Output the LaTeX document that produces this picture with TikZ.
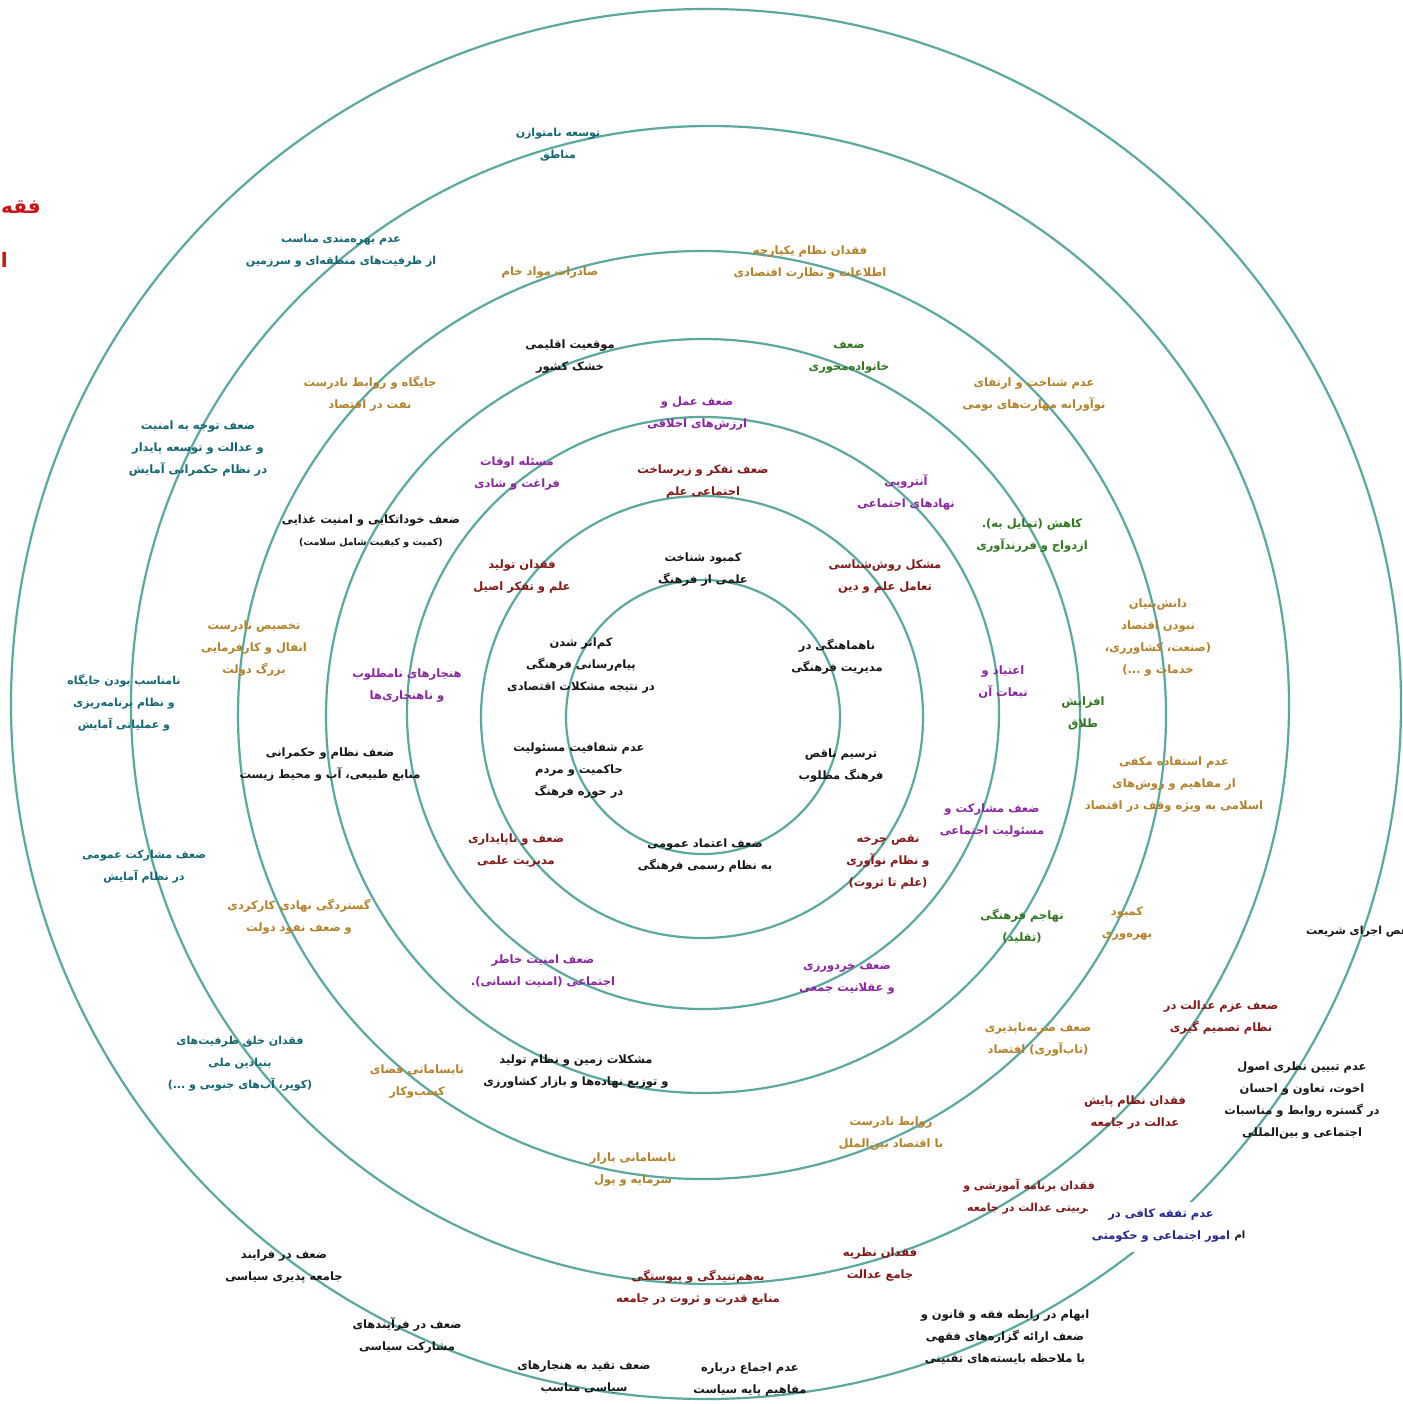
\documentclass[tikz,border=0pt]{standalone}
\usepackage{fontspec}
\newfontfamily\fafont[Script=Arabic]{DejaVu Sans}
\TeXXeTstate=1
\newcommand\R[1]{\beginR #1\endR}
\newcommand\zw{^^^^200c}
\definecolor{ring}{RGB}{90,168,158}
\definecolor{cteal}{RGB}{18,102,112}
\definecolor{cgold}{RGB}{178,130,42}
\definecolor{cgreen}{RGB}{48,118,30}
\definecolor{cpurple}{RGB}{138,38,158}
\definecolor{cdred}{RGB}{128,24,24}
\definecolor{cnavy}{RGB}{36,40,140}
\definecolor{cred}{RGB}{200,20,20}
\definecolor{cblack}{RGB}{22,22,22}
\tikzset{
  ringline/.style={draw=ring, line width=2.2pt},
  lbl/.style={align=center, inner sep=1pt, font=\fafont\bfseries\fontsize{11.5}{22}\selectfont},
  small/.style={font=\fafont\bfseries\fontsize{11}{22}\selectfont},
  tl/.style={lbl, small, text=cteal},
  gd/.style={lbl, text=cgold},
  bk/.style={lbl, text=cblack},
  gr/.style={lbl, text=cgreen},
  pu/.style={lbl, text=cpurple},
  dr/.style={lbl, text=cdred},
  nv/.style={lbl, text=cnavy},
  rd/.style={lbl, text=cred, font=\fafont\bfseries\fontsize{20}{30}\selectfont}
}
\begin{document}
\begin{tikzpicture}[x=1pt,y=-1pt]
\useasboundingbox (0,0) rectangle (1402,1404);
\clip (0,0) rectangle (1402,1404);
\fill[white] (0,0) rectangle (1402,1404);
% rings
\draw[ringline] (703,717) circle[radius=137];
\draw[ringline] (702,717) circle[radius=221];
\draw[ringline] (703,713) circle[radius=296];
\draw[ringline] (703,716) circle[radius=377];
\draw[ringline] (702,715) circle[radius=464];
\draw[ringline] (710,705) circle[radius=579];
\draw[ringline] (706,704) circle[radius=695];
% teal
\node[tl] (t1) at (558,144.5) {\R{توسعه نامتوازن}\\\R{مناطق}};
\node[tl] (t2) at (341,251) {\R{عدم بهره\zw{}مندی مناسب}\\\R{از ظرفیت\zw{}های منطقه\zw{}ای و سرزمین}};
\node[lbl, text=cteal] (t3) at (198,449) {\R{ضعف توجه به امنیت}\\\R{و عدالت و توسعه پایدار}\\\R{در نظام حکمرانی آمایش}};
\node[tl] (t4) at (124,703) {\R{نامناسب بودن جایگاه}\\\R{و نظام برنامه\zw{}ریزی}\\\R{و عملیاتی آمایش}};
\node[tl] (t5) at (144,866.5) {\R{ضعف مشارکت عمومی}\\\R{در نظام آمایش}};
\node[tl] (t6) at (240,1063.5) {\R{فقدان خلق ظرفیت\zw{}های}\\\R{بنیادین ملی}\\\R{(کویر، آب\zw{}های جنوبی و ...)}};
% gold
\node[gd] (t7) at (550,273) {\R{صادرات مواد خام}};
\node[gd] (t8) at (810,263) {\R{فقدان نظام یکپارچه}\\\R{اطلاعات و نظارت اقتصادی}};
\node[gd] (t9) at (370,394) {\R{جایگاه و روابط نادرست}\\\R{نفت در اقتصاد}};
\node[gd] (t10) at (1034,395) {\R{عدم شناخت و ارتقای}\\\R{نوآورانه مهارت\zw{}های بومی}};
\node[gd] (t11) at (254,648.5) {\R{تخصیص نادرست}\\\R{انفال و کارفرمایی}\\\R{بزرگ دولت}};
\node[gd] (t12) at (1158,638) {\R{دانش\zw{}بنیان}\\\R{نبودن اقتصاد}\\\R{(صنعت، کشاورزی،}\\\R{خدمات و ...)}};
\node[gd] (t13) at (1174,785) {\R{عدم استفاده مکفی}\\\R{از مفاهیم و روش\zw{}های}\\\R{اسلامی به ویژه وقف در اقتصاد}};
\node[gd] (t14) at (1127,923.5) {\R{کمبود}\\\R{بهره\zw{}وری}};
\node[gd] (t15) at (299,916.5) {\R{گستردگی نهادی کارکردی}\\\R{و ضعف نفوذ دولت}};
\node[gd] (t16) at (1038,1040) {\R{ضعف ضربه\zw{}ناپذیری}\\\R{(تاب\zw{}آوری) اقتصاد}};
\node[gd] (t17) at (417,1082) {\R{نابسامانی فضای}\\\R{کسب\zw{}وکار}};
\node[gd] (t18) at (891,1133.5) {\R{روابط نادرست}\\\R{با اقتصاد بین\zw{}الملل}};
\node[gd] (t19) at (633,1170) {\R{نابسامانی بازار}\\\R{سرمایه و پول}};
% black
\node[bk] (t20) at (570,357) {\R{موقعیت اقلیمی}\\\R{خشک کشور}};
\node[bk] (t21) at (371,531.5) {\R{ضعف خوداتکایی و امنیت غذایی}\\\R{\fontsize{9.5}{22}\selectfont (کمیت و کیفیت شامل سلامت)}};
\node[bk] (t22) at (330,764.5) {\R{ضعف نظام و حکمرانی}\\\R{منابع طبیعی، آب و محیط زیست}};
\node[bk] (t23) at (576,1072) {\R{مشکلات زمین و نظام تولید}\\\R{و توزیع نهاده\zw{}ها و بازار کشاورزی}};
\node[bk] (t24) at (703,570) {\R{کمبود شناخت}\\\R{علمی از فرهنگ}};
\node[bk] (t25) at (581,665.5) {\R{کم\zw{}اثر شدن}\\\R{پیام\zw{}رسانی فرهنگی}\\\R{در نتیجه مشکلات اقتصادی}};
\node[bk] (t26) at (837,657) {\R{ناهماهنگی در}\\\R{مدیریت فرهنگی}};
\node[bk] (t27) at (579,771) {\R{عدم شفافیت مسئولیت}\\\R{حاکمیت و مردم}\\\R{در حوزه فرهنگ}};
\node[bk] (t28) at (841,765.5) {\R{ترسیم ناقص}\\\R{فرهنگ مطلوب}};
\node[bk] (t29) at (705,856) {\R{ضعف اعتماد عمومی}\\\R{به نظام رسمی فرهنگی}};
\node[bk] (t30) at (284,1267) {\R{ضعف در فرایند}\\\R{جامعه پذیری سیاسی}};
\node[bk] (t31) at (407,1335.5) {\R{ضعف در فرآیندهای}\\\R{مشارکت سیاسی}};
\node[bk] (t32) at (584,1377.5) {\R{ضعف تقید به هنجارهای}\\\R{سیاسی مناسب}};
\node[bk] (t33) at (750,1380) {\R{عدم اجماع درباره}\\\R{مفاهیم پایه سیاست}};
\node[bk] (t34) at (1005,1337) {\R{ابهام در رابطه فقه و قانون و}\\\R{ضعف ارائه گزاره\zw{}های فقهی}\\\R{با ملاحظه بایسته\zw{}های تقنینی}};
\node[bk] (t35) at (1302,1100.5) {\R{عدم تبیین نظری اصول}\\\R{اخوت، تعاون و احسان}\\\R{در گستره روابط و مناسبات}\\\R{اجتماعی و بین\zw{}المللی}};
\node[bk, small, anchor=west] (t36) at (1305,932) {\R{نقص اجرای شریعت}};
% green
\node[gr] (t37) at (849,357) {\R{ضعف}\\\R{خانواده\zw{}محوری}};
\node[gr] (t38) at (1032,535.5) {\R{کاهش (تمایل به).}\\\R{ازدواج و فرزندآوری}};
\node[gr] (t39) at (1083,713) {\R{افزایش}\\\R{طلاق}};
\node[gr] (t40) at (1022,926) {\R{تهاجم فرهنگی}\\\R{(تقلید)}};
% purple
\node[pu] (t41) at (697,414) {\R{ضعف عمل و}\\\R{ارزش\zw{}های اخلاقی}};
\node[pu] (t42) at (517,474) {\R{مسئله اوقات}\\\R{فراغت و شادی}};
\node[pu] (t43) at (906,492.5) {\R{آنتروپی}\\\R{نهادهای اجتماعی}};
\node[pu] (t44) at (407,685.5) {\R{هنجارهای نامطلوب}\\\R{و ناهنجاری\zw{}ها}};
\node[pu] (t45) at (1003,682) {\R{اعتیاد و}\\\R{تبعات آن}};
\node[pu] (t46) at (992,821) {\R{ضعف مشارکت و}\\\R{مسئولیت اجتماعی}};
\node[pu] (t47) at (543,971) {\R{ضعف امنیت خاطر}\\\R{اجتماعی (امنیت انسانی).}};
\node[pu] (t48) at (847,978.5) {\R{ضعف خردورزی}\\\R{و عقلانیت جمعی}};
% dark red
\node[dr] (t49) at (703,481.5) {\R{ضعف تفکر و زیرساخت}\\\R{اجتماعی علم}};
\node[dr] (t50) at (522,577) {\R{فقدان تولید}\\\R{علم و تفکر اصیل}};
\node[dr] (t51) at (885,577) {\R{مشکل روش\zw{}شناسی}\\\R{تعامل علم و دین}};
\node[dr] (t52) at (516,851) {\R{ضعف و ناپایداری}\\\R{مدیریت علمی}};
\node[dr] (t53) at (888,862) {\R{نقص چرخه}\\\R{و نظام نوآوری}\\\R{(علم تا ثروت)}};
\node[dr] (t54) at (1221,1017.5) {\R{ضعف عزم عدالت در}\\\R{نظام تصمیم گیری}};
\node[dr] (t55) at (1135,1113) {\R{فقدان نظام پایش}\\\R{عدالت در جامعه}};
\node[dr, small] (t56) at (1029,1196.5) {\R{فقدان برنامه آموزشی و}\\\R{تربیتی عدالت در جامعه}};
\node[dr] (t57) at (880,1265) {\R{فقدان نظریه}\\\R{جامع عدالت}};
\node[dr] (t58) at (698,1288) {\R{به\zw{}هم\zw{}تنیدگی و پیوستگی}\\\R{منابع قدرت و ثروت در جامعه}};
% navy
\node[fill=white, minimum width=145pt, minimum height=50pt, inner sep=0pt] (wb) at (1160,1227) {};
\node[nv] (t59) at (1161,1225.5) {\R{عدم تفقه کافی در}\\\R{امور اجتماعی و حکومتی}};
\node[bk, font=\fafont\bfseries\fontsize{10}{12}\selectfont] (t59b) at (1240,1236) {\R{ام}};
% red (cut) title
\node[rd, anchor=east] (t60) at (42,207) {\R{فقه}};
\node[rd, anchor=east] (t61) at (9,260) {\R{ا}};
\end{tikzpicture}
\end{document}
